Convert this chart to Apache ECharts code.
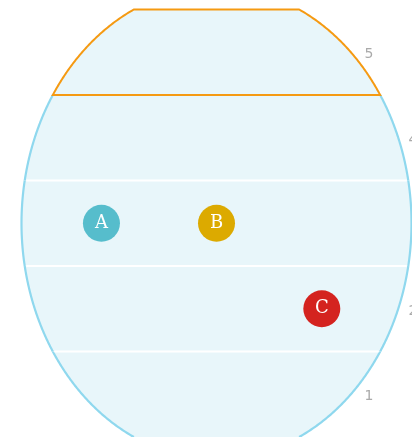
<!DOCTYPE html>
<html>
<head>
<meta charset="utf-8">
<script src="https://cdn.jsdelivr.net/npm/echarts@6/dist/echarts.min.js"></script>
<style>html,body{margin:0;padding:0;background:#fff;}#c{width:412px;height:437px;}</style>
</head>
<body>
<div id="c"></div>
<script>
// ---- data ----
const bandValues = [1, 2, 3, 4, 5];
const tickLabels = ['1', '2', '3', '4', '5'];
const highlightedBand = 5;
const pointNames = ['A', 'B', 'C'];
const pointX = [-0.59, 0.0, 0.54];
const pointY = [3, 3, 2];

// ---- styling ----
const pointColors = ['#56bdcc', '#dcaa00', '#d4231f'];
const FILL = '#e8f6fa';
const OUTLINE = '#8fd8ee';
const HILITE = '#f59a12';
const RY_UNITS = 2.76;   // vertical semi-axis of the ellipse in y units
const LABEL_GAP = 14;

function geom(api) {
  const c = api.coord([0, 3]);
  const cx = c[0], cy = c[1];
  const rx = api.coord([1, 3])[0] - cx;
  const ry = cy - api.coord([0, 3 + RY_UNITS])[1];
  return {cx, cy, rx, ry};
}

function renderBand(params, api) {
  const v = api.value(0);
  const g = geom(api);
  const top = api.coord([0, v + 0.5])[1];
  const bot = api.coord([0, v - 0.5])[1];
  const yTop = Math.max(top, g.cy - g.ry);
  const yBot = Math.min(bot, g.cy + g.ry);
  const half = y => g.rx * Math.sqrt(Math.max(0, 1 - Math.pow((y - g.cy) / g.ry, 2)));
  const n = 80;
  const right = [], left = [];
  for (let i = 0; i <= n; i++) {
    const y = yTop + (yBot - yTop) * i / n;
    right.push([g.cx + half(y), y]);
    left.push([g.cx - half(y), y]);
  }
  const poly = right.concat(left.slice().reverse());
  const children = [
    {type: 'polygon', shape: {points: poly}, style: {fill: FILL, stroke: null}}
  ];
  if (v !== highlightedBand) {
    children.push({type: 'polyline', shape: {points: right}, style: {stroke: OUTLINE, lineWidth: 2.2, fill: null}});
    children.push({type: 'polyline', shape: {points: left}, style: {stroke: OUTLINE, lineWidth: 2.2, fill: null}});
  }
  if (v > bandValues[0]) {
    const hb = half(bot);
    children.push({type: 'line', shape: {x1: g.cx - hb + 1.5, y1: bot, x2: g.cx + hb - 1.5, y2: bot},
      style: {stroke: '#ffffff', lineWidth: 2}});
  }
  if (v === highlightedBand) {
    children.push({type: 'polygon', shape: {points: poly}, style: {fill: null, stroke: HILITE, lineWidth: 2}});
  }
  return {type: 'group', children};
}

function renderTick(params, api) {
  const v = api.value(0);
  const g = geom(api);
  const y = api.coord([0, v])[1];
  const R = g.ry + LABEL_GAP, Rx = g.rx + LABEL_GAP;
  const x = g.cx + Rx * Math.sqrt(Math.max(0, 1 - Math.pow((y - g.cy) / R, 2)));
  return {
    type: 'text',
    style: {x, y: y + 2.5, text: tickLabels[params.dataIndex], fill: '#aaaaaa', fontSize: 14,
      fontFamily: 'DejaVu Sans, sans-serif', align: 'center', verticalAlign: 'middle'}
  };
}

const chart = echarts.init(document.getElementById('c'), null, {renderer: 'canvas'});
chart.setOption({
  animation: false,
  grid: {left: 21.5, width: 390, top: 9.5, height: 430},
  xAxis: {type: 'value', min: -1, max: 1, show: false},
  yAxis: {type: 'value', min: 0.5, max: 5.5, show: false},
  series: [
    {type: 'custom', renderItem: renderBand, clip: false, z: 1,
      data: bandValues.map(v => [v])},
    {type: 'custom', renderItem: renderTick, clip: false, z: 2,
      data: bandValues.map(v => [v])},
    {type: 'scatter', z: 3, symbolSize: 37,
      data: pointNames.map((n, i) => ({name: n, value: [pointX[i], pointY[i]], itemStyle: {color: pointColors[i], opacity: 1}})),
      label: {show: true, position: 'inside', formatter: p => p.name, color: '#fff',
        fontFamily: 'DejaVu Serif, serif', fontSize: 18},
      emphasis: {disabled: true}}
  ]
});
</script>
</body>
</html>
